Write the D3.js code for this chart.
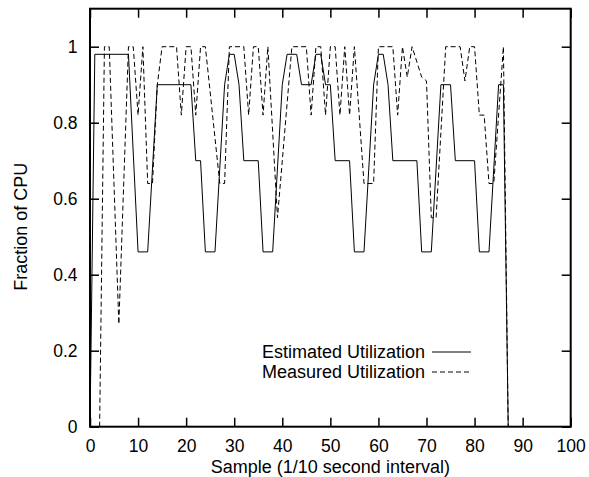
<!DOCTYPE html>
<html><head><meta charset="utf-8">
<script src="https://cdn.jsdelivr.net/npm/d3@7"></script>
<style>
body{margin:0;background:#fff;}
svg text{font-family:"Liberation Sans",Arial,sans-serif;fill:#000;}
</style></head>
<body><svg id="c" width="589" height="477"></svg>
<script>
// Data (vertices)
const estSample = [0,1,8,10,12,14,21,22,23,24,26,28,29,30,31,32,35,36,38,40,41,43,44,46,47,48,49,50,51,54,55,57,59,60,61,62,63,68,69,71,73,75,76,80,81,83,85,86,87];
const estValue  = [0,0.98,0.98,0.46,0.46,0.9,0.9,0.7,0.7,0.46,0.46,0.9,0.98,0.98,0.9,0.7,0.7,0.46,0.46,0.9,0.98,0.98,0.9,0.9,0.98,0.98,0.9,0.9,0.7,0.7,0.46,0.46,0.9,0.98,0.98,0.9,0.7,0.7,0.46,0.46,0.9,0.9,0.7,0.7,0.46,0.46,0.9,0.9,0];
const measSample = [2,3,4,6,8,9,10,11,12,13,14,15,18,19,20,21,22,23,24,27,28,29,32,33,34,35,36,37,39,42,45,46,47,48,49,50,51,52,53,54,55,57,59,60,63,64,65,66,67,69,70,71,72,74,77,78,79,80,81,82,83,84,86,87];
const measValue  = [0,1,1,0.27,1,1,0.82,1,0.64,0.64,0.9,1,1,0.82,1,1,0.82,1,1,0.64,0.64,1,1,0.82,1,1,0.82,1,0.55,1,1,0.82,1,1,0.82,1,1,0.82,1,0.82,1,0.64,0.64,1,1,0.82,1,0.92,1,0.92,0.91,0.55,0.55,1,1,0.91,1,1,0.82,0.82,0.64,0.64,1,0];
const xTicks = [0,10,20,30,40,50,60,70,80,90,100];
const yTicks = [0,0.2,0.4,0.6,0.8,1];
const yTickLabels = ["0","0.2","0.4","0.6","0.8","1"];
const seriesNames = ["Estimated Utilization","Measured Utilization"];
const xTitle = "Sample (1/10 second interval)";
const yTitle = "Fraction of CPU";

const L=90,R=570.7,T=8.7,B=426.7;
const svg=d3.select("#c");
const x=d3.scaleLinear().domain([0,100]).range([L,R]);
const y=d3.scaleLinear().domain([0,1.1]).range([B,T]);
const fs=18, tfs=17.5;

const gx=svg.append("g").attr("transform",`translate(0,${B})`)
  .call(d3.axisBottom(x).tickValues(xTicks).tickSizeInner(-9).tickSizeOuter(0).tickPadding(13).tickFormat(d3.format("d")));
const gxt=svg.append("g").attr("transform",`translate(0,${T})`)
  .call(d3.axisTop(x).tickValues(xTicks).tickSizeInner(-9).tickSizeOuter(0).tickFormat(""));
const gy=svg.append("g").attr("transform",`translate(${L},0)`)
  .call(d3.axisLeft(y).tickValues(yTicks).tickSizeInner(-9).tickSizeOuter(0).tickPadding(12.5).tickFormat((d,i)=>yTickLabels[i]));
const gyr=svg.append("g").attr("transform",`translate(${R},0)`)
  .call(d3.axisRight(y).tickValues(yTicks).tickSizeInner(-9).tickSizeOuter(0).tickFormat(""));
[gx,gxt,gy,gyr].forEach(g=>{
  g.select(".domain").remove();
  g.selectAll("line").attr("stroke","#000").attr("stroke-width",1.5);
  g.selectAll("text").attr("font-size",tfs).attr("font-family","Liberation Sans, Arial, sans-serif").attr("fill","#000");
});

svg.append("rect").attr("x",L).attr("y",T).attr("width",R-L).attr("height",B-T)
  .attr("fill","none").attr("stroke","#000").attr("stroke-width",2);

const line=d3.line().x(d=>x(d[0])).y(d=>y(d[1]));
const est=estSample.map((s,i)=>[s,estValue[i]]);
const meas=measSample.map((s,i)=>[s,measValue[i]]);
svg.append("path").datum(est).attr("d",line).attr("fill","none").attr("stroke","#000").attr("stroke-width",1);
svg.append("path").datum(meas).attr("d",line).attr("fill","none").attr("stroke","#000").attr("stroke-width",1).attr("stroke-dasharray","5,3");

// legend
const lg=[{name:seriesNames[0],dash:null,y:352},{name:seriesNames[1],dash:"5,3",y:372}];
lg.forEach(d=>{
  svg.append("text").attr("x",425).attr("y",d.y).attr("dy","0.35em").attr("text-anchor","end").attr("font-size",fs).text(d.name);
  const l=svg.append("line").attr("x1",432).attr("x2",471).attr("y1",d.y).attr("y2",d.y).attr("stroke","#000").attr("stroke-width",1);
  if(d.dash) l.attr("stroke-dasharray",d.dash);
});

svg.append("text").attr("x",(L+R)/2).attr("y",473).attr("text-anchor","middle").attr("font-size",fs).text(xTitle);
svg.append("text").attr("transform",`translate(27,${(T+B)/2+9}) rotate(-90)`).attr("text-anchor","middle").attr("font-size",fs).text(yTitle);
</script></body></html>
